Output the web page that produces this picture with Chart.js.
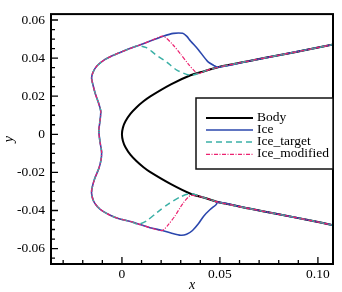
<!DOCTYPE html>
<html>
<head>
<meta charset="utf-8">
<script src="https://cdn.jsdelivr.net/npm/chart.js@4/dist/chart.umd.min.js"></script>
<style>
html,body{margin:0;padding:0;background:#fff;}
#wrap{width:342px;height:292px;}
#fontprobe{position:absolute;left:-999px;top:0;font-family:"Liberation Serif";}
</style>
</head>
<body>
<div id="fontprobe">Body <i>x</i></div>
<div id="wrap"><canvas id="c" width="342" height="292"></canvas></div>
<script>
// ---- data ----
const seriesNames = ["Body", "Ice", "Ice_target", "Ice_modified"];

const bodyX = [0.109,0.095,0.08,0.065,0.049,0.042,0.035,0.025,0.0145,0.011,0.0075,0.0043,0.0018,0.0005,0,0.0005,0.0018,0.0043,0.0075,0.011,0.0145,0.025,0.035,0.042,0.049,0.065,0.08,0.095,0.109];
const bodyY = [0.0474,0.0445,0.0415,0.0385,0.0352,0.0331,0.031,0.0262,0.0199,0.0173,0.0142,0.0107,0.0068,0.0035,0,-0.0035,-0.0068,-0.0107,-0.0142,-0.0173,-0.0199,-0.0262,-0.0312,-0.0333,-0.0356,-0.039,-0.042,-0.045,-0.048];

// common ice leading-edge contour (shared by all ice shapes)
const leadX = [0.015,0.0094,0.004,-0.0009,-0.005,-0.0086,-0.0127,-0.0147,-0.0155,-0.0148,-0.0135,-0.0118,-0.0108,-0.0112,-0.0118,-0.0112,-0.0104,-0.0106,-0.0118,-0.0138,-0.0152,-0.0155,-0.0145,-0.0125,-0.0096,-0.006,-0.0019,0.0043,0.0094,0.015];
const leadY = [0.0492,0.047,0.045,0.043,0.0412,0.0393,0.036,0.0327,0.0296,0.026,0.021,0.016,0.012,0.007,0.002,-0.004,-0.009,-0.013,-0.018,-0.023,-0.028,-0.031,-0.035,-0.038,-0.0405,-0.0425,-0.0442,-0.0458,-0.0474,-0.0492];

// Ice (blue): upper horn, lower horn
const iceUpX = [0.109,0.095,0.08,0.065,0.049,0.0468,0.0437,0.039,0.035,0.033,0.031,0.0263,0.021];
const iceUpY = [0.0474,0.0445,0.0415,0.0385,0.0352,0.0362,0.0383,0.0444,0.049,0.0515,0.053,0.053,0.0515];
const iceLowX = [0.0206,0.025,0.030,0.033,0.036,0.039,0.0417,0.045,0.048,0.049,0.065,0.08,0.095,0.109];
const iceLowY = [-0.0505,-0.0518,-0.053,-0.0525,-0.0505,-0.047,-0.043,-0.0395,-0.037,-0.0356,-0.039,-0.042,-0.045,-0.048];

// Ice_target (teal dashed)
const tgtUpX = [0.109,0.095,0.08,0.065,0.049,0.042,0.035,0.028,0.023,0.017,0.0125,0.008];
const tgtUpY = [0.0474,0.0445,0.0415,0.0385,0.0352,0.0331,0.031,0.0337,0.0378,0.042,0.0455,0.0465];
const tgtLeadX = [0.004,-0.0009,-0.005,-0.0086,-0.0127,-0.0147,-0.0155,-0.0148,-0.0135,-0.0118,-0.0108,-0.0112,-0.0118,-0.0112,-0.0104,-0.0106,-0.0118,-0.0138,-0.0152,-0.0155,-0.0145,-0.0125,-0.0096,-0.006,-0.0019,0.0043,0.0085];
const tgtLeadY = [0.045,0.043,0.0412,0.0393,0.036,0.0327,0.0296,0.026,0.021,0.016,0.012,0.007,0.002,-0.004,-0.009,-0.013,-0.018,-0.023,-0.028,-0.031,-0.035,-0.038,-0.0405,-0.0425,-0.0442,-0.0458,-0.0472];
const tgtLowX = [0.0125,0.018,0.0238,0.030,0.035,0.042,0.049,0.065,0.08,0.095,0.109];
const tgtLowY = [-0.0455,-0.041,-0.0365,-0.0328,-0.0312,-0.0333,-0.0356,-0.039,-0.042,-0.045,-0.048];

// Ice_modified (pink dash-dot)
const modUpX = [0.109,0.095,0.08,0.065,0.049,0.042,0.039,0.0366,0.034,0.030,0.026,0.021];
const modUpY = [0.0474,0.0445,0.0415,0.0385,0.0352,0.0331,0.0318,0.0337,0.0367,0.042,0.047,0.0515];
const modLowX = [0.0206,0.024,0.027,0.031,0.035,0.042,0.049,0.065,0.08,0.095,0.109];
const modLowY = [-0.0505,-0.047,-0.043,-0.0365,-0.0322,-0.0333,-0.0356,-0.039,-0.042,-0.045,-0.048];

const xTicks = [0, 0.05, 0.10];
const xTickLabels = ["0", "0.05", "0.10"];
const yTicks = [-0.06, -0.04, -0.02, 0, 0.02, 0.04, 0.06];
const yTickLabels = ["-0.06", "-0.04", "-0.02", "0", "0.02", "0.04", "0.06"];

// ---- helpers ----
function pts(xs, ys){ return xs.map((x,i)=>({x:x, y:ys[i]})); }
const iceX = iceUpX.concat(leadX, iceLowX), iceY = iceUpY.concat(leadY, iceLowY);
const tgtX = tgtUpX.concat(tgtLeadX, tgtLowX), tgtY = tgtUpY.concat(tgtLeadY, tgtLowY);
const modX = modUpX.concat(leadX, modLowX), modY = modUpY.concat(leadY, modLowY);

const styles = [
  {color:'#000000', width:2, dash:[]},
  {color:'#2b47ad', width:1.6, dash:[]},
  {color:'#3bb0a6', width:1.5, dash:[6,4]},
  {color:'#ec2270', width:1.2, dash:[4,1.5,1,1.5]}
];

const serif = '"Liberation Serif", serif';

const framePlugin = {
  id:'frame',
  afterDraw(chart){
    const ctx = chart.ctx, ca = chart.chartArea;
    const xs = chart.scales.x, ys = chart.scales.y;
    ctx.save();
    ctx.strokeStyle = '#000'; ctx.lineWidth = 1.3; ctx.setLineDash([]);
    ctx.beginPath();
    for (let k = -13; k <= 12; k++){
      const v = k*0.005;
      const p = ys.getPixelForValue(v);
      if (p < ca.top || p > ca.bottom) continue;
      const major = (k % 4 === 0);
      ctx.moveTo(ca.left, p); ctx.lineTo(ca.left + (major?7:4), p);
    }
    for (let k = -3; k <= 10; k++){
      const v = k*0.01;
      const p = xs.getPixelForValue(v);
      if (p < ca.left || p > ca.right) continue;
      const major = (k % 5 === 0);
      ctx.moveTo(p, ca.bottom); ctx.lineTo(p, ca.bottom - (major?7:4));
    }
    ctx.stroke();
    ctx.lineWidth = 2;
    ctx.strokeRect(ca.left, ca.top, ca.right-ca.left, ca.bottom-ca.top);
    // legend
    const bx = 196, by = 98, bw = ca.right - bx, bh = 71;
    ctx.fillStyle = '#fff';
    ctx.fillRect(bx, by, bw, bh);
    ctx.lineWidth = 1.5; ctx.strokeStyle = '#111';
    ctx.strokeRect(bx, by, bw, bh);
    const rowY = [118, 130, 142, 154.3];
    ctx.font = "13.5px " + serif;
    ctx.textBaseline = 'middle'; ctx.textAlign = 'left';
    seriesNames.forEach((name, i)=>{
      const s = styles[i];
      ctx.strokeStyle = s.color; ctx.lineWidth = s.width; ctx.setLineDash(s.dash);
      ctx.beginPath(); ctx.moveTo(206, rowY[i]); ctx.lineTo(253, rowY[i]); ctx.stroke();
      ctx.fillStyle = '#000';
      ctx.fillText(name, 257, rowY[i] - 1);
    });
    ctx.restore();
  }
};

function draw(){
  const data = {
    datasets: [
      {label: seriesNames[0], data: pts(bodyX, bodyY), order: 3},
      {label: seriesNames[1], data: pts(iceX, iceY), order: 2},
      {label: seriesNames[2], data: pts(tgtX, tgtY), order: 1},
      {label: seriesNames[3], data: pts(modX, modY), order: 0}
    ].map((d,i)=>Object.assign(d, {
      showLine: true, pointRadius: 0, pointHoverRadius: 0, tension: 0.25,
      borderColor: styles[i].color, borderWidth: styles[i].width, borderDash: styles[i].dash,
      backgroundColor: styles[i].color, fill: false
    }))
  };

  new Chart(document.getElementById('c'), {
    type: 'scatter',
    data: data,
    options: {
      responsive: false, animation: false, devicePixelRatio: 1,
      layout: {padding: {top: 6, right: 9, left: 0, bottom: 0}},
      plugins: {legend: {display: false}, tooltip: {enabled: false}},
      scales: {
        x: {
          type: 'linear', position: 'bottom', min: -0.0362, max: 0.1077,
          afterFit: s => { s.height = 28; },
          afterBuildTicks: s => { s.ticks = xTicks.map(v => ({value: v})); },
          grid: {display: false, drawTicks: false},
          border: {display: false},
          ticks: {
            callback: (v, i) => xTickLabels[i], padding: 2, maxRotation: 0, autoSkip: false,
            color: '#000', font: {family: serif, size: 13.5}
          },
          title: {display: true, text: 'x', color: '#000', padding: {top: 0, bottom: 0},
            font: {family: serif, size: 14, style: 'italic', lineHeight: 1}}
        },
        y: {
          type: 'linear', position: 'left', min: -0.0681, max: 0.0631,
          afterFit: s => { s.width = 51; },
          afterBuildTicks: s => { s.ticks = yTicks.map(v => ({value: v})); },
          grid: {display: false, drawTicks: false},
          border: {display: false},
          ticks: {
            callback: (v, i) => yTickLabels[i], padding: 6, autoSkip: false,
            color: '#000', font: {family: serif, size: 13.5}
          },
          title: {display: true, text: 'y', color: '#000', padding: {top: 2, bottom: 0},
            font: {family: serif, size: 14, style: 'italic', lineHeight: 1}}
        }
      }
    },
    plugins: [framePlugin]
  });
}

if (document.fonts && document.fonts.load) {
  Promise.all([
    document.fonts.load('13.5px "Liberation Serif"'),
    document.fonts.load('italic 14px "Liberation Serif"')
  ]).then(draw, draw);
} else { draw(); }
</script>
</body>
</html>
